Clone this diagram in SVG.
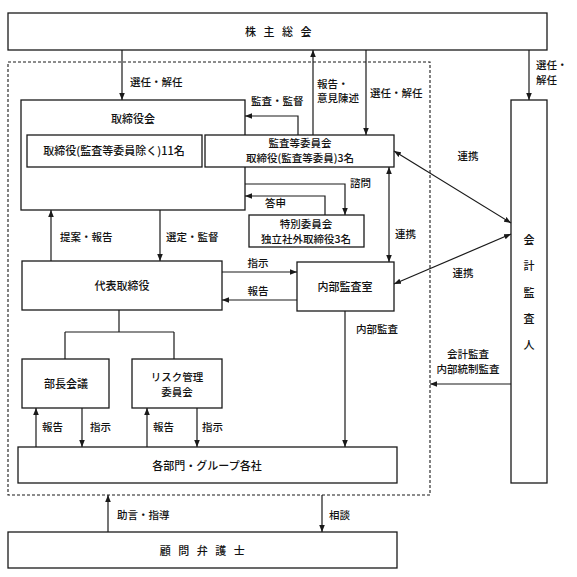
<svg xmlns="http://www.w3.org/2000/svg" width="577" height="577" viewBox="0 0 577 577">
<style>
.box{fill:#fff;stroke:#1a1a1a;stroke-width:1.3}
.dash{fill:none;stroke:#1a1a1a;stroke-width:1.1;stroke-dasharray:3 2}
.t{font-family:"Noto Sans CJK JP","Noto Sans CJK SC",sans-serif;font-size:11px;font-weight:500;fill:#111;text-anchor:middle}
.t2{font-family:"Noto Sans CJK JP","Noto Sans CJK SC",sans-serif;font-size:10.5px;font-weight:500;fill:#111;text-anchor:middle}
.l{font-family:"Noto Sans CJK JP","Noto Sans CJK SC",sans-serif;font-size:10.5px;font-weight:500;fill:#111}
.lm{font-family:"Noto Sans CJK JP","Noto Sans CJK SC",sans-serif;font-size:10.5px;font-weight:500;fill:#111;text-anchor:middle}
.c{fill:none;stroke:#1a1a1a;stroke-width:1.2}
.a{marker-end:url(#ah)}
.b{marker-start:url(#ah);marker-end:url(#ah)}
</style>
<defs>
<marker id="ah" viewBox="0 0 10 10" refX="10" refY="5" markerWidth="7" markerHeight="7" markerUnits="userSpaceOnUse" orient="auto-start-reverse">
<path d="M0,1 L10,5 L0,9 z" fill="#1a1a1a"/>
</marker>
</defs>
<rect width="577" height="577" fill="#fff"/>

<rect class="dash" x="8" y="62" width="422" height="433"/>

<g id="shareholders">
<rect class="box" x="8" y="13" width="539" height="37"/>
<text class="t" x="282" y="36" letter-spacing="7.5">株主総会</text>
</g>

<g id="board">
<rect class="box" x="21" y="100" width="224" height="110"/>
<text class="t" x="133" y="123">取締役会</text>
</g>
<g id="directors">
<rect class="box" x="27" y="135" width="175" height="32"/>
<text class="t" x="114" y="155">取締役(監査等委員除く)11名</text>
</g>
<g id="audit-committee">
<rect class="box" x="205" y="135" width="189" height="32"/>
<text class="t2" x="300" y="147">監査等委員会</text>
<text class="t2" x="300" y="162">取締役(監査等委員)3名</text>
</g>
<g id="special-committee">
<rect class="box" x="249" y="215" width="115" height="32"/>
<text class="t2" x="306" y="228">特別委員会</text>
<text class="t2" x="306" y="243">独立社外取締役3名</text>
</g>
<g id="representative">
<rect class="box" x="22" y="261" width="200" height="49"/>
<text class="t" x="122" y="290">代表取締役</text>
</g>
<g id="internal-audit">
<rect class="box" x="297" y="262" width="97" height="49"/>
<text class="t" x="345" y="291">内部監査室</text>
</g>
<g id="managers-meeting">
<rect class="box" x="22" y="359" width="87" height="49"/>
<text class="t" x="66" y="388">部長会議</text>
</g>
<g id="risk-committee">
<rect class="box" x="132" y="359" width="90" height="49"/>
<text class="t2" x="177" y="381">リスク管理</text>
<text class="t2" x="177" y="396">委員会</text>
</g>
<g id="departments">
<rect class="box" x="18" y="447" width="379" height="36"/>
<text class="t" x="207" y="470">各部門・グループ各社</text>
</g>
<g id="accounting-auditor">
<rect class="box" x="511" y="100" width="36" height="383"/>
<text class="t" x="529" y="244">会</text>
<text class="t" x="529" y="270">計</text>
<text class="t" x="529" y="297">監</text>
<text class="t" x="529" y="323">査</text>
<text class="t" x="529" y="349">人</text>
</g>
<g id="legal-advisor">
<rect class="box" x="8" y="532" width="389" height="36"/>
<text class="t" x="206" y="555" letter-spacing="7.5">顧問弁護士</text>
</g>

<g id="connectors">
<path class="c a" d="M122,50 V100"/>
<text class="l" x="130" y="86">選任・解任</text>
<path class="c a" d="M313,135 V50"/>
<text class="l" x="317" y="88">報告・</text>
<text class="l" x="317" y="102">意見陳述</text>
<path class="c a" d="M366,50 V135"/>
<text class="l" x="370" y="97">選任・解任</text>
<path class="c a" d="M298,135 V116 H245"/>
<text class="l" x="251" y="105">監査・監督</text>
<path class="c a" d="M245,184 H345 V215"/>
<text class="l" x="350" y="187">諮問</text>
<path class="c a" d="M325,215 V196 H245"/>
<text class="l" x="265" y="207">答申</text>
<path class="c a" d="M529,50 V100"/>
<text class="l" x="536" y="69">選任・</text>
<text class="l" x="536" y="84">解任</text>
<path class="c b" d="M394,151 L511,223"/>
<text class="lm" x="468" y="160">連携</text>
<path class="c b" d="M389,167 V262"/>
<text class="l" x="395" y="238">連携</text>
<path class="c b" d="M394,284 L511,234"/>
<text class="lm" x="463" y="277">連携</text>
<path class="c a" d="M160,210 V261"/>
<text class="l" x="166" y="241">選定・監督</text>
<path class="c a" d="M51,261 V210"/>
<text class="l" x="60" y="241">提案・報告</text>
<path class="c a" d="M222,272 H297"/>
<text class="lm" x="258" y="267">指示</text>
<path class="c a" d="M297,300 H222"/>
<text class="lm" x="258" y="295">報告</text>
<path class="c" d="M119,310 V332 M65,332 H174 M65,332 V359 M174,332 V359"/>
<path class="c a" d="M36,447 V408"/>
<text class="l" x="42" y="431">報告</text>
<path class="c a" d="M82,408 V447"/>
<text class="l" x="90" y="431">指示</text>
<path class="c a" d="M147,447 V408"/>
<text class="l" x="153" y="431">報告</text>
<path class="c a" d="M197,408 V447"/>
<text class="l" x="202" y="431">指示</text>
<path class="c a" d="M345,311 V447"/>
<text class="lm" x="377" y="333">内部監査</text>
<path class="c a" d="M511,384 H430"/>
<text class="lm" x="468" y="358">会計監査</text>
<text class="lm" x="468" y="373">内部統制監査</text>
<path class="c a" d="M108,532 V495"/>
<text class="l" x="117" y="519">助言・指導</text>
<path class="c a" d="M322,495 V532"/>
<text class="l" x="329" y="519">相談</text>
</g>
</svg>
